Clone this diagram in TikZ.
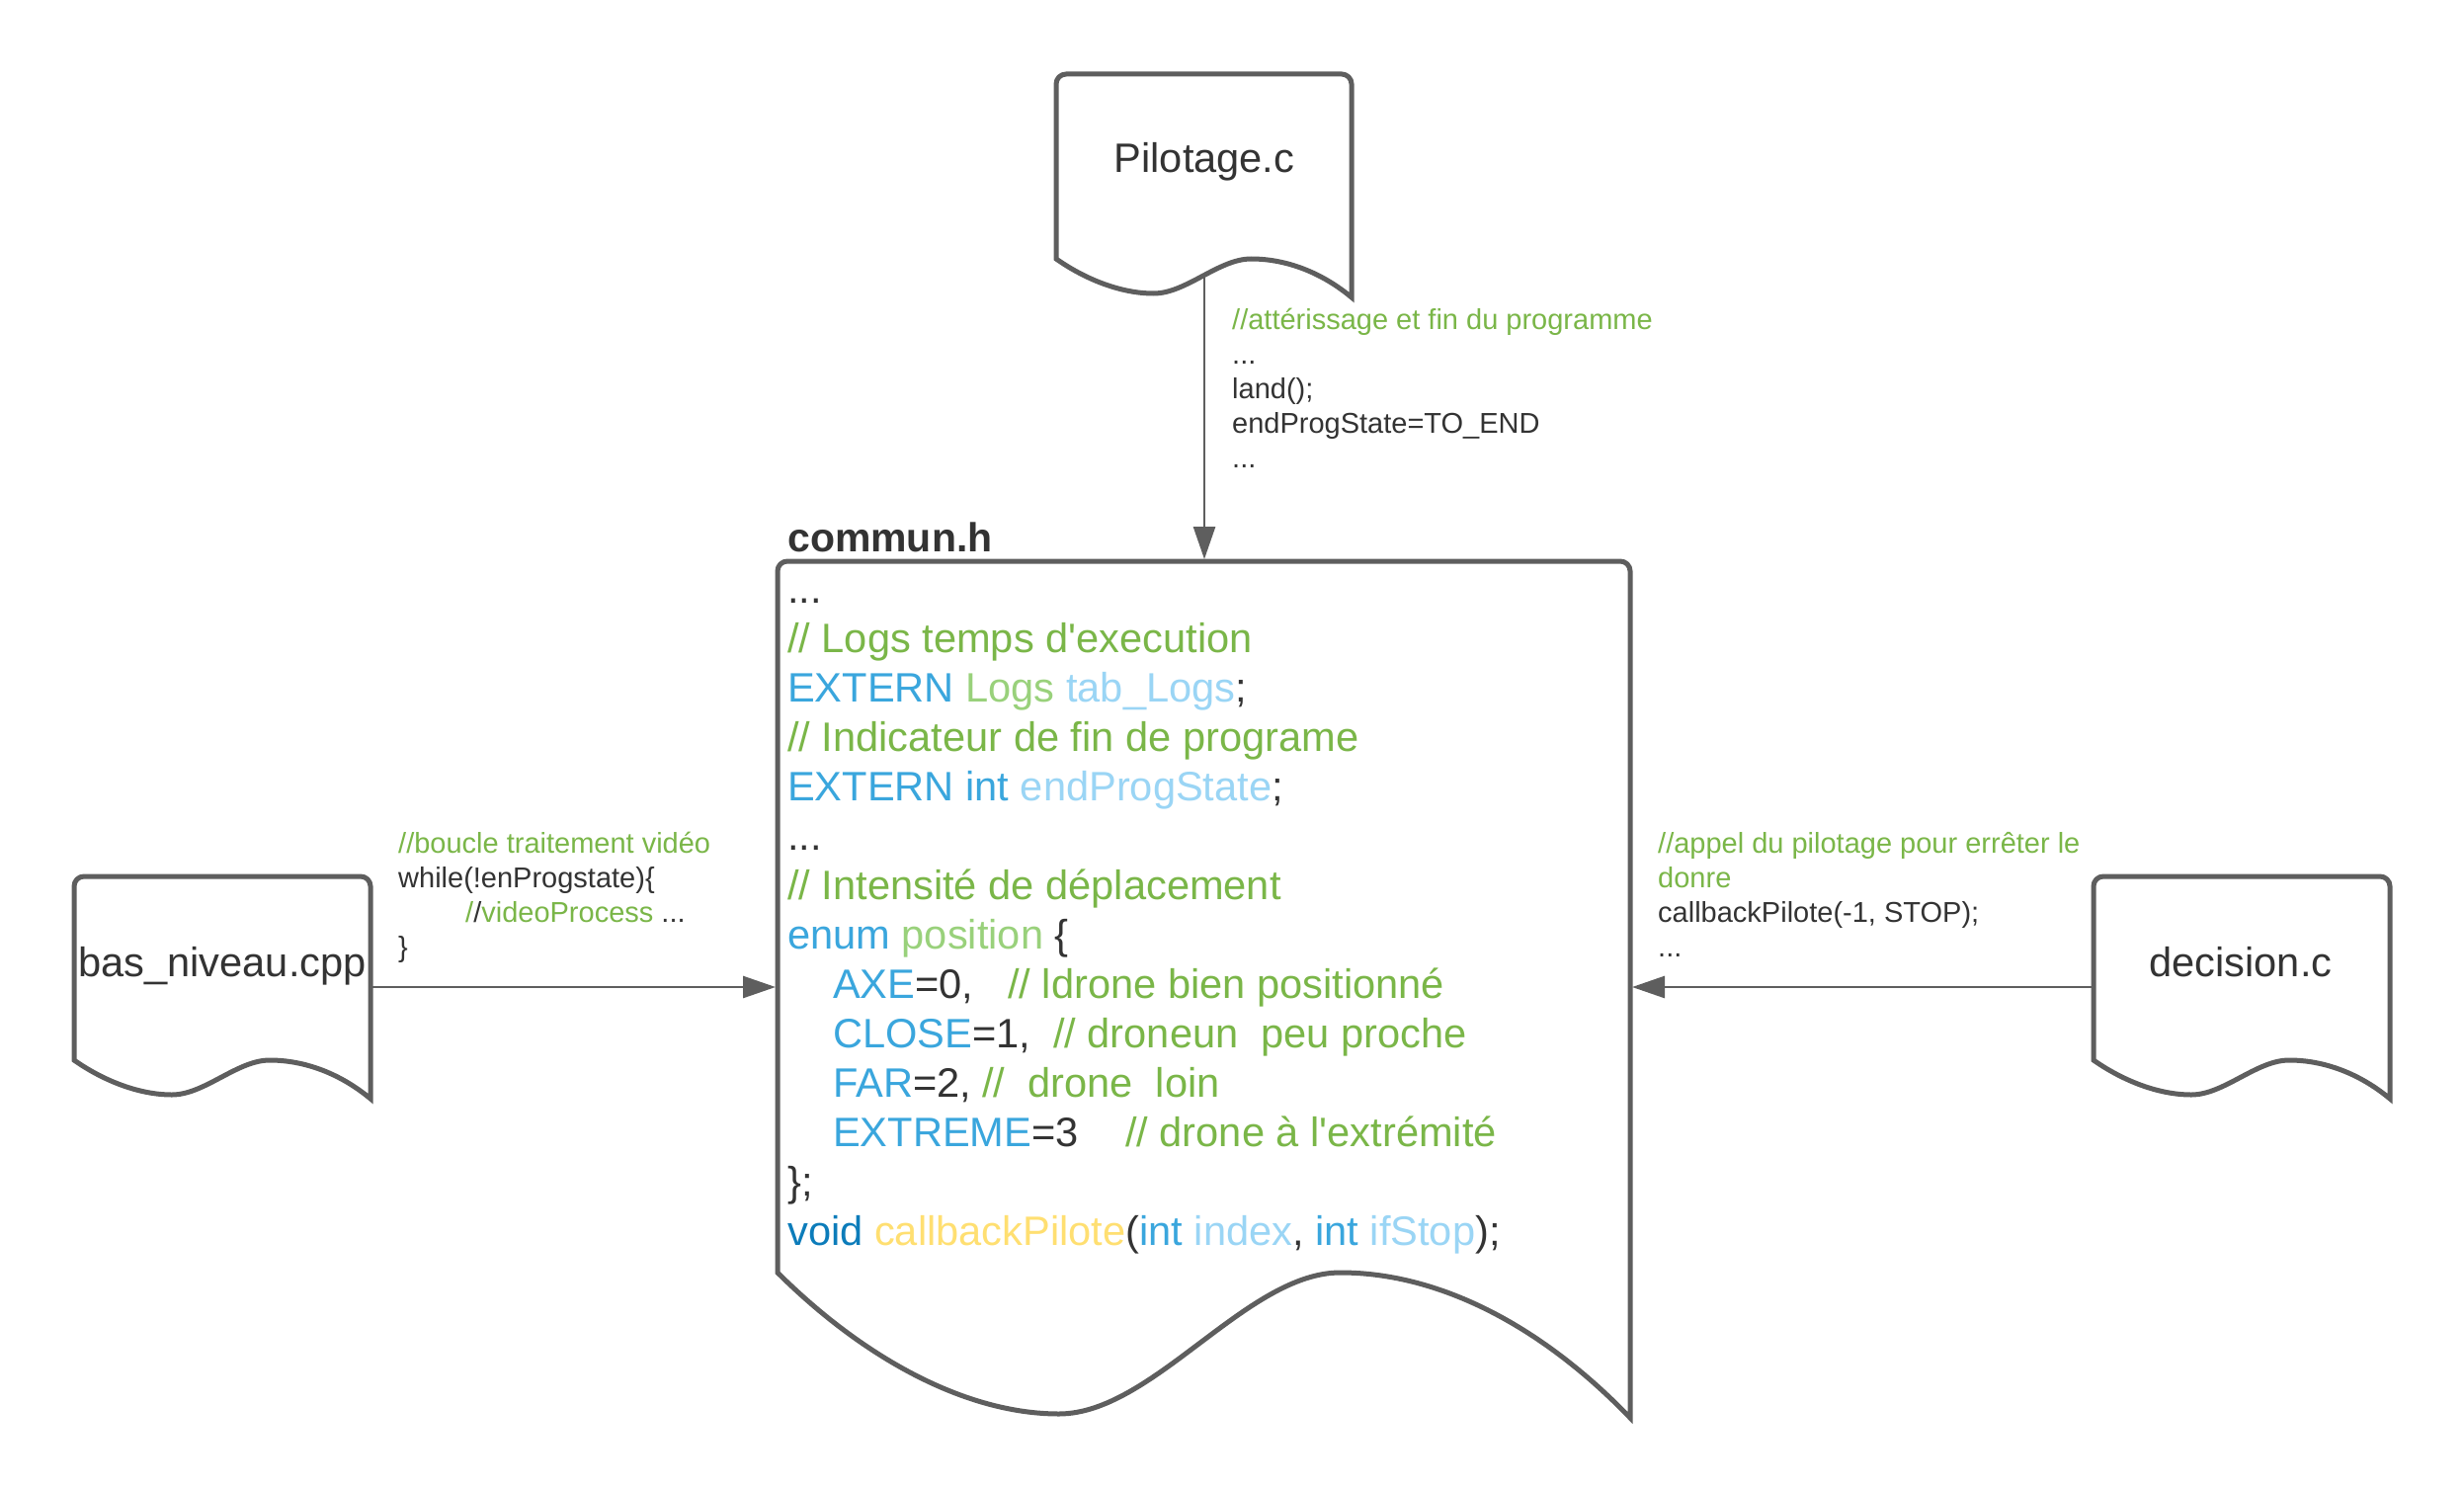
\documentclass[tikz,border=0pt]{standalone}
\usepackage{fontspec}
\setmainfont{Liberation Sans}
\usetikzlibrary{arrows.meta}

\definecolor{strokegray}{HTML}{5E5E5E}
\definecolor{ink}{HTML}{333333}
\definecolor{cmtgreen}{HTML}{7AB648}
\definecolor{kwblue}{HTML}{3AA6DD}
\definecolor{typegreen}{HTML}{99D17B}
\definecolor{varblue}{HTML}{9AD5F5}
\definecolor{voidblue}{HTML}{0C7CBA}
\definecolor{fnyellow}{HTML}{FFDF71}

\newcommand{\cmt}[1]{\textcolor{cmtgreen}{#1}}
\newcommand{\kw}[1]{\textcolor{kwblue}{#1}}
\newcommand{\typ}[1]{\textcolor{typegreen}{#1}}
\newcommand{\var}[1]{\textcolor{varblue}{#1}}

% document shape: x0, y0, width, height (to the trough), wave amplitude
\newcommand{\docshape}[5]{%
  \draw[docline] (#1,{#2+#4-#5}) -- (#1,{#2+30})
    [rounded corners=10pt] -- (#1,#2) -- ({#1+#3},#2) -- ({#1+#3},{#2+30})
    [sharp corners] -- ({#1+#3},{#2+#4+4})
    .. controls ({#1+0.9*#3},{#2+#4-0.6*#5}) and ({#1+0.78*#3},{#2+#4-#5}) .. ({#1+0.66*#3},{#2+#4-#5})
    .. controls ({#1+0.55*#3},{#2+#4-#5}) and ({#1+0.44*#3},{#2+#4}) .. ({#1+0.33*#3},{#2+#4})
    .. controls ({#1+0.22*#3},{#2+#4}) and ({#1+0.1*#3},{#2+#4-0.4*#5}) .. (#1,{#2+#4-#5}) -- cycle;}

\tikzset{
  docline/.style={draw=strokegray, line width=5pt, line join=miter},
  flow/.style={draw=strokegray, line width=2.7pt, -{Triangle[length=33pt,width=22pt]}},
  docname/.style={anchor=base, inner sep=0pt, text=ink, font=\fontsize{41.6}{50}\selectfont},
  codetext/.style={anchor=base west, align=left, inner sep=0pt, text=ink, font=\fontsize{41.6}{50}\selectfont},
  note/.style={anchor=base west, align=left, inner sep=0pt, text=ink, font=\fontsize{29}{35}\selectfont},
}

\begin{document}
\begin{tikzpicture}[x=1pt,y=-1pt]
  \fill[white] (0,0) rectangle (2494,1506);
  \useasboundingbox (0,0) rectangle (2494,1506);

  % the four documents
  \docshape{1069}{75}{299}{222}{35}
  \docshape{75}{887}{300}{221}{35}
  \docshape{2119}{887}{300}{221}{35}
  \docshape{787}{568}{863}{863}{143}

  \node[docname] (pilot) at (1219,175) {Pilotage.c};
  \node[docname] (basniveau) at (225,988) {bas\_niveau.cpp};
  \node[docname] (decision) at (2268,988) {decision.c};
  \node[codetext, font=\fontsize{41}{50}\selectfont\bfseries] (communtitle) at (797,558) {commun.h};

  % contents of commun.h (anchored on the baseline of its last line)
  \node[codetext] (communcode) at (797,1260) {...\\
    \cmt{// Logs temps d\textquotesingle execution}\\
    \kw{EXTERN} \typ{Logs} \var{tab\_Logs};\\
    \cmt{// Indicateur de fin de programe}\\
    \kw{EXTERN int} \var{endProgState};\\
    ...\\
    \cmt{// Intensité de déplacement}\\
    \kw{enum} \typ{position} \{\\
    \hspace*{46pt}\makebox[177pt][l]{\kw{AXE}=0,}\cmt{// ldrone bien positionné}\\
    \hspace*{46pt}\makebox[223pt][l]{\kw{CLOSE}=1,}\cmt{// droneun\ \ peu proche}\\
    \hspace*{46pt}\makebox[151pt][l]{\kw{FAR}=2,}\cmt{//\ \ drone\ \ loin}\\
    \hspace*{46pt}\makebox[296pt][l]{\kw{EXTREME}=3}\cmt{// drone à l\textquotesingle extrémité}\\
    \};\\
    \textcolor{voidblue}{void} \textcolor{fnyellow}{callbackPilote}(\kw{int} \var{index}, \kw{int} \var{ifStop});};

  % connectors
  \coordinate (pilot-out) at (1219,280);
  \coordinate (commun-top) at (1219,566);
  \coordinate (bas-out) at (377,999);
  \coordinate (commun-left) at (785,999);
  \coordinate (decision-out) at (2117,999);
  \coordinate (commun-right) at (1652,999);
  \draw[flow] (pilot-out) -- (commun-top);
  \draw[flow] (bas-out) -- (commun-left);
  \draw[flow] (decision-out) -- (commun-right);

  % connector labels
  \node[note] (pilotnote) at (1247,473) {\cmt{//attérissage et fin du programme}\\
    ...\\
    land();\\
    endProgState=TO\_END\\
    ...};
  \node[note] (basnote) at (403,968) {\cmt{//boucle traitement vidéo}\\
    while(!enProgstate)\{\\
    \hspace*{68pt}\cmt{/}/\cmt{videoProcess} ...\\
    \}};
  \node[note] (decisionnote) at (1678,968) {\cmt{//appel du pilotage pour errêter le}\\
    \cmt{donre}\\
    callbackPilote(-1, STOP);\\
    ...};
\end{tikzpicture}
\end{document}
